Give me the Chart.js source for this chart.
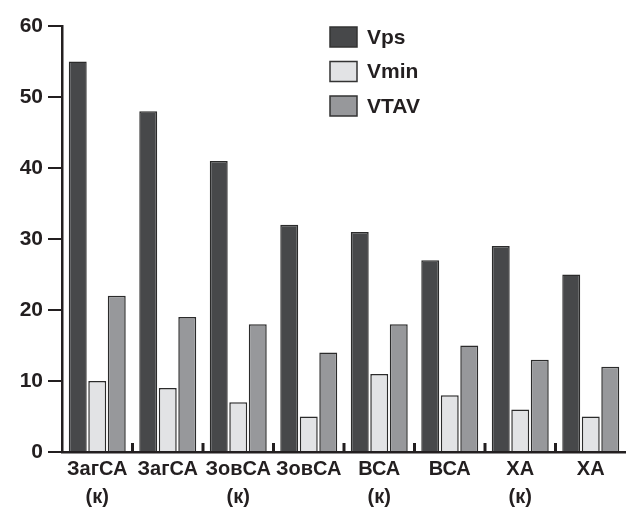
<!DOCTYPE html>
<html><head><meta charset="utf-8">
<script src="https://cdn.jsdelivr.net/npm/chart.js@4/dist/chart.umd.min.js"></script>
<style>html,body{margin:0;padding:0;background:#fff}#w{width:626px;height:507px}</style>
</head><body><div id="w"><canvas id="c"></canvas></div>
<script>
const categories = [['ЗагСА','(к)'],['ЗагСА',''],['ЗовСА','(к)'],['ЗовСА',''],['ВСА','(к)'],['ВСА',''],['ХА','(к)'],['ХА','']];
const seriesNames = ['Vps','Vmin','VTAV'];
const vps  = [55, 48, 41, 32, 31, 27, 29, 25];
const vmin = [10, 9, 7, 5, 11, 8, 6, 5];
const vtav = [22, 19, 18, 14, 18, 15, 13, 12];
const yTicks = [0,10,20,30,40,50,60];
const colors = ['#47484a','#e2e3e5','#97989b'];
const ink = '#231f20';
const FONT = '"Liberation Sans", Arial, sans-serif';

const innerTicks = {
  id:'innerTicks',
  afterDatasetsDraw(chart){
    const x = chart.scales.x, ctx = chart.ctx, b = chart.chartArea.bottom;
    ctx.save(); ctx.strokeStyle = ink; ctx.lineWidth = 3;
    for(let i=1;i<categories.length;i++){
      const px = (x.getPixelForValue(i-1)+x.getPixelForValue(i))/2;
      ctx.beginPath(); ctx.moveTo(px,b); ctx.lineTo(px,b-9); ctx.stroke();
    }
    ctx.restore();
  }
};
const boxLegend = {
  id:'boxLegend',
  afterDraw(chart){
    const ctx = chart.ctx;
    ctx.save();
    ctx.font = 'bold 21px '+FONT; ctx.textBaseline='middle'; ctx.fillStyle=ink;
    chart.data.datasets.forEach((ds,i)=>{
      const y = 27 + i*34.5;
      ctx.fillStyle = ds.backgroundColor; ctx.fillRect(330,y,27,20);
      ctx.strokeStyle = '#333'; ctx.lineWidth=1.5; ctx.strokeRect(330,y,27,20);
      ctx.fillStyle = ink; ctx.fillText(ds.label, 367, y+11);
    });
    ctx.restore();
  }
};

new Chart(document.getElementById('c'),{
  type:'bar',
  data:{labels:categories,datasets:[vps,vmin,vtav].map((d,i)=>({
    label:seriesNames[i],data:d,backgroundColor:colors[i],borderColor:'#2b2b2b',borderWidth:1.5,
    categoryPercentage:0.83,barPercentage:0.92}))},
  options:{
    responsive:true,maintainAspectRatio:false,animation:false,
    layout:{padding:{top:26,right:0,left:0,bottom:0}},
    plugins:{legend:{display:false},tooltip:{enabled:false}},
    scales:{
      x:{
        afterFit(s){s.height=55;},
        grid:{display:false,drawTicks:false},
        border:{display:true,color:ink,width:2.5},
        ticks:{color:ink,font:{family:FONT,size:20,weight:'bold',lineHeight:1.4},padding:3,maxRotation:0,autoSkip:false}
      },
      y:{
        min:0,max:60,
        afterFit(s){s.width=62;},
        afterBuildTicks(s){s.ticks=yTicks.map(v=>({value:v}));},
        grid:{drawOnChartArea:false,drawTicks:true,tickLength:14,color:ink,lineWidth:2},
        border:{display:true,color:ink,width:2.5},
        ticks:{color:ink,font:{family:FONT,size:21,weight:'bold'},padding:5}
      }
    }
  },
  plugins:[innerTicks,boxLegend]
});
</script></body></html>
